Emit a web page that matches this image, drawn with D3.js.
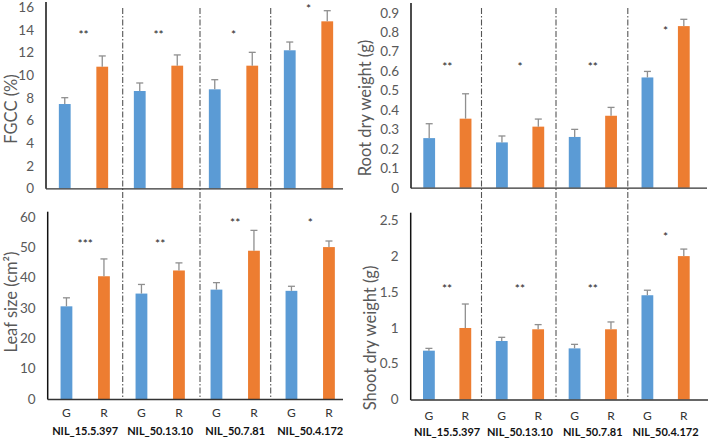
<!DOCTYPE html>
<html><head><meta charset="utf-8">
<script src="https://cdn.jsdelivr.net/npm/d3@7"></script>
<style>
body{margin:0;background:#fff;}
svg{display:block;font-family:Lato,"Open Sans",sans-serif;}
</style></head>
<body><svg id="c" width="708" height="439"></svg>
<script>
// ---- data ----
const groups = ["NIL_15.5.397","NIL_50.13.10","NIL_50.7.81","NIL_50.4.172"];
const genotypes = ["G","R"];

const fgccG = [7.45, 8.6, 8.75, 12.2];
const fgccR = [10.75, 10.84, 10.84, 14.76];
const fgccErrG = [0.56, 0.71, 0.85, 0.73];
const fgccErrR = [0.95, 0.95, 1.18, 0.94];
const fgccSig = ["**","**","*","*"];
const fgccSigAt = [13.7, 13.7, 13.7, 16.0];
const fgccTicks = [0,2,4,6,8,10,12,14,16];

const rootG = [0.255, 0.233, 0.261, 0.567];
const rootR = [0.355, 0.314, 0.37, 0.831];
const rootErrG = [0.074, 0.033, 0.039, 0.031];
const rootErrR = [0.128, 0.039, 0.043, 0.035];
const rootSig = ["**","*","**","*"];
const rootSigAt = [0.627, 0.627, 0.627, 0.814];
const rootTicks = [0,0.1,0.2,0.3,0.4,0.5,0.6,0.7,0.8,0.9];

const leafG = [30.5, 34.7, 36.0, 35.6];
const leafR = [40.4, 42.3, 48.8, 50.0];
const leafErrG = [2.8, 3.0, 2.3, 1.5];
const leafErrR = [5.7, 2.5, 6.7, 2.0];
const leafSig = ["***","**","**","*"];
const leafSigAt = [51.5, 51.5, 58.3, 58.3];
const leafTicks = [0,10,20,30,40,50,60];

const shootG = [0.68, 0.815, 0.712, 1.452];
const shootR = [0.996, 0.978, 0.978, 1.997];
const shootErrG = [0.032, 0.051, 0.056, 0.07];
const shootErrR = [0.334, 0.065, 0.102, 0.098];
const shootSig = ["**","**","**","*"];
const shootSigAt = [1.56, 1.56, 1.56, 2.29];
const shootTicks = [0,0.5,1,1.5,2,2.5];

// ---- build rows ----
function rows(gv, rv, ge, re){
  const out = [];
  groups.forEach((g,i)=>{
    out.push({key:g+"|G", geno:"G", group:g, v:gv[i], e:ge[i]});
    out.push({key:g+"|R", geno:"R", group:g, v:rv[i], e:re[i]});
  });
  return out;
}

const colors = {G:"#5B9BD5", R:"#ED7D31"};
const svg = d3.select("#c");

const panels = [
  {data:rows(fgccG,fgccR,fgccErrG,fgccErrR), sig:fgccSig, sigAt:fgccSigAt, ticks:fgccTicks, dom:[0,16],
   x0:46, x1:346, axEnd:343, y0:188.3, y1:7.3, axTop:2, title:"FGCC (%)", tx:10.5, ty:109, labels:false},
  {data:rows(rootG,rootR,rootErrG,rootErrR), sig:rootSig, sigAt:rootSigAt, ticks:rootTicks, dom:[0,0.9],
   x0:411, x1:702, axEnd:707, y0:187.7, y1:12.7, axTop:3, title:"Root dry weight (g)", tx:364.5, ty:108, labels:false},
  {data:rows(leafG,leafR,leafErrG,leafErrR), sig:leafSig, sigAt:leafSigAt, ticks:leafTicks, dom:[0,60],
   x0:47.7, x1:347.7, axEnd:343, y0:399, y1:216.7, axTop:211.7, title:"Leaf size (cm²)", tx:10.5, ty:302, labels:true, gry:412, gly:430},
  {data:rows(shootG,shootR,shootErrG,shootErrR), sig:shootSig, sigAt:shootSigAt, ticks:shootTicks, dom:[0,2.5],
   x0:410.7, x1:702, axEnd:708, y0:399.5, y1:220, axTop:212.7, title:"Shoot dry weight (g)", tx:370, ty:338, labels:true, gry:415.5, gly:431.5}
];

// dividers (drawn first, behind)
const dividerXs = [122.7, 200, 270.7, 481.5, 556, 627.8];
svg.selectAll("line.div").data(dividerXs).join("line")
  .attr("class","div")
  .attr("x1",d=>d).attr("x2",d=>d).attr("y1",8).attr("y2",400)
  .attr("stroke","#555").attr("stroke-width",1.1)
  .attr("stroke-dasharray","6,2,1.5,2");

panels.forEach(p=>{
  const g = svg.append("g");
  const x = d3.scaleBand().domain(p.data.map(d=>d.key)).range([p.x0,p.x1]).padding(0);
  const y = d3.scaleLinear().domain(p.dom).range([p.y0,p.y1]);
  const bw = 11.8;
  const gx = d3.scaleBand().domain(groups).range([p.x0,p.x1]);

  // bars
  g.selectAll("rect").data(p.data).join("rect")
    .attr("x",d=>x(d.key)+x.bandwidth()/2-bw/2)
    .attr("width",bw)
    .attr("y",d=>y(d.v))
    .attr("height",d=>y(0)-y(d.v))
    .attr("fill",d=>colors[d.geno]);

  // error bars
  const eb = g.selectAll("g.eb").data(p.data).join("g").attr("class","eb")
    .attr("stroke","#8f8f8f").attr("stroke-width",1.3);
  eb.append("line")
    .attr("x1",d=>x(d.key)+x.bandwidth()/2).attr("x2",d=>x(d.key)+x.bandwidth()/2)
    .attr("y1",d=>y(d.v)).attr("y2",d=>y(d.v+d.e));
  eb.append("line")
    .attr("x1",d=>x(d.key)+x.bandwidth()/2-3.5).attr("x2",d=>x(d.key)+x.bandwidth()/2+3.5)
    .attr("y1",d=>y(d.v+d.e)).attr("y2",d=>y(d.v+d.e));

  // y axis ticks
  const ax = g.append("g").attr("transform",`translate(${p.x0},0)`)
    .call(d3.axisLeft(y).tickValues(p.ticks).tickSize(0).tickPadding(12).tickFormat(d3.format("")));
  ax.select(".domain").remove();
  ax.selectAll("text").attr("fill","#595959").style("font-size","13.5px").style("font-family","Lato, 'Open Sans', sans-serif");

  // axis lines
  g.append("line").attr("x1",p.x0).attr("x2",p.x0).attr("y1",p.axTop).attr("y2",p.y0+0.5)
    .attr("stroke","#111").attr("stroke-width",1.5);
  g.append("line").attr("x1",p.x0).attr("x2",p.axEnd).attr("y1",p.y0+0.5).attr("y2",p.y0+0.5)
    .attr("stroke","#333").attr("stroke-width",1.3);

  // significance stars
  g.selectAll("text.sig").data(groups).join("text").attr("class","sig")
    .attr("x",d=>gx(d)+gx.bandwidth()/2)
    .attr("y",(d,i)=>y(p.sigAt[i])+5.5)
    .attr("text-anchor","middle").attr("fill","#222")
    .style("font-size","12px")
    .text((d,i)=>p.sig[i]);

  // title
  g.append("text")
    .attr("transform",`translate(${p.tx},${p.ty}) rotate(-90)`)
    .attr("text-anchor","middle").attr("dominant-baseline","central")
    .attr("fill","#595959").style("font-size","16.5px")
    .text(p.title);

  if(p.labels){
    g.selectAll("text.geno").data(p.data).join("text").attr("class","geno")
      .attr("x",d=>x(d.key)+x.bandwidth()/2)
      .attr("y",p.gry).attr("dominant-baseline","central")
      .attr("text-anchor","middle").attr("fill","#333")
      .style("font-size","12px").text(d=>d.geno);
    g.selectAll("text.grp").data(groups).join("text").attr("class","grp")
      .attr("x",d=>gx(d)+gx.bandwidth()/2)
      .attr("y",p.gly).attr("dominant-baseline","central")
      .attr("text-anchor","middle").attr("fill","#111")
      .style("font-size","11px").style("font-weight","bold").text(d=>d);
  }
});
</script></body></html>
